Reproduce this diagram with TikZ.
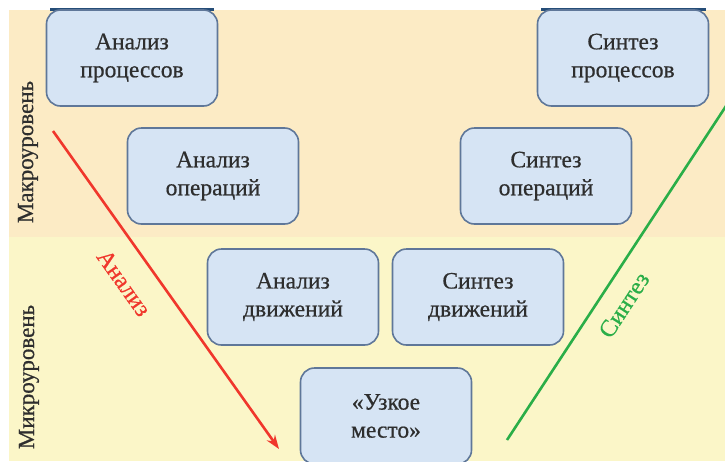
\documentclass[tikz,border=0pt]{standalone}
\usepackage{fontspec}
\setmainfont[FakeBold=0.6]{Liberation Serif}
\usetikzlibrary{arrows.meta}
\definecolor{macrobg}{HTML}{FCEBC5}
\definecolor{microbg}{HTML}{FBF6C8}
\definecolor{boxfill}{HTML}{D6E4F4}
\definecolor{boxline}{HTML}{5F7799}
\definecolor{txt}{HTML}{2E2E2E}
\definecolor{ared}{HTML}{F0372C}
\definecolor{sgreen}{HTML}{2AAE48}
\definecolor{topbar}{HTML}{254D78}
\tikzset{
  stagebox/.style={draw=boxline, fill=boxfill, line width=1.6pt, rounded corners=14pt,
    minimum width=171pt, minimum height=96pt, align=center, text=txt,
    font=\fontsize{23.5}{28}\selectfont},
  levellabel/.style={rotate=90, text=txt, font=\fontsize{23}{26}\selectfont},
  dirlabel/.style={font=\fontsize{24}{26}\selectfont}
}
\begin{document}
\begin{tikzpicture}[x=1pt,y=-1pt]
\useasboundingbox (0,0) rectangle (725,461);
\clip (0,0) rectangle (725,461);
\fill[white] (0,0) rectangle (725,461);
\fill[macrobg] (9,10) rectangle (725,237);
\fill[microbg] (9,237) rectangle (725,461);

\fill[topbar] (50,8) rectangle (214,10.5);
\fill[topbar] (541,8) rectangle (706,10.5);

\node[stagebox] (ap) at (132,58) {Анализ\\процессов};
\node[stagebox] (sp) at (623,58) {Синтез\\процессов};
\node[stagebox] (ao) at (213,176) {Анализ\\операций};
\node[stagebox] (so) at (546,176) {Синтез\\операций};
\node[stagebox] (ad) at (293,297) {Анализ\\движений};
\node[stagebox] (sd) at (478,297) {Синтез\\движений};
\node[stagebox] (bn) at (386,416) {«Узкое\\место»};

\node[levellabel] (macro) at (28,152) {Макроуровень};
\node[levellabel] (micro) at (29,377) {Микроуровень};

\coordinate (ra1) at (53,131);
\coordinate (ra2) at (279,449);
\draw[ared, line width=2.6pt, -{Stealth[length=14pt,width=10pt]}] (ra1) -- (ra2);
\node[dirlabel, text=ared, rotate=-54.6] (alab) at (124,283) {Анализ};

\coordinate (ga1) at (507,440);
\coordinate (ga2) at (728,103);
\draw[sgreen, line width=2.6pt] (ga1) -- (ga2);
\node[dirlabel, text=sgreen, rotate=57] (slab) at (624,305) {Синтез};
\end{tikzpicture}
\end{document}
